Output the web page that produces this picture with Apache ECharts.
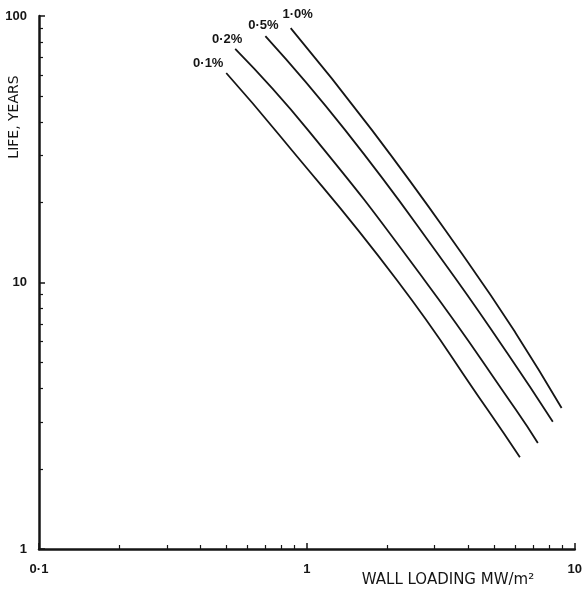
<!DOCTYPE html>
<html>
<head>
<meta charset="utf-8">
<script src="https://cdn.jsdelivr.net/npm/echarts@6/dist/echarts.min.js"></script>
<style>
  html, body { margin: 0; padding: 0; background: #fff; }
  #chart { width: 585px; height: 590px; }
</style>
</head>
<body>
<div id="chart"></div>
<script>
  // curves: wall loading (MW/m2) vs life (years), one per percentage
  var curveNames = ['0·1%', '0·2%', '0·5%', '1·0%'];
  var loading01 = [0.50, 0.79, 2.17, 4.73, 6.24];
  var life01 = [61.1, 35.7, 10.2, 3.33, 2.21];
  var loading02 = [0.54, 1.01, 2.75, 6.03, 7.28];
  var life02 = [75.2, 37.3, 10.2, 3.33, 2.50];
  var loading05 = [0.70, 1.39, 3.21, 5.62, 8.28];
  var life05 = [84.1, 37.3, 12.1, 5.40, 3.00];
  var loading10 = [0.87, 1.75, 3.95, 6.03, 8.93];
  var life10 = [90.1, 37.3, 12.1, 6.44, 3.38];

  var xMinorTicks = [0.2, 0.3, 0.4, 0.5, 0.6, 0.7, 0.8, 0.9, 2, 3, 4, 5, 6, 7, 8, 9];
  var yMinorTicks = [2, 3, 4, 5, 6, 7, 8, 9, 20, 30, 40, 50, 60, 70, 80, 90];

  // label offsets from each curve's first point
  var labelOffsets = [[-18, -10], [-8, -10], [-2, -11], [7, -14]];

  var chartDom = document.getElementById('chart');
  var myChart = echarts.init(chartDom);

  var ink = '#151515';
  var font = 'Liberation Sans, Arial, sans-serif';

  function pairs(xs, ys) {
    return xs.map(function (x, i) { return [x, ys[i]]; });
  }

  var curves = [
    pairs(loading01, life01),
    pairs(loading02, life02),
    pairs(loading05, life05),
    pairs(loading10, life10)
  ];

  var series = curves.map(function (pts, k) {
    return {
      name: curveNames[k],
      type: 'line',
      xAxisIndex: 0,
      yAxisIndex: 0,
      smooth: 0.5,
      symbol: 'circle',
      symbolSize: 0.1,
      showSymbol: true,
      silent: true,
      lineStyle: { color: ink, width: 1.8 },
      itemStyle: { color: ink },
      data: pts.map(function (p, i) {
        if (i !== 0) return p;
        return {
          value: p,
          label: {
            show: true,
            position: 'inside',
            offset: labelOffsets[k],
            formatter: curveNames[k],
            color: ink,
            fontFamily: font,
            fontWeight: 'bold',
            fontSize: 13
          }
        };
      })
    };
  });

  var majorAxisLine = { show: true, onZero: false, lineStyle: { color: ink, width: 2.5 } };

  var option = {
    animation: false,
    backgroundColor: '#fff',
    grid: { left: 39, right: 10, top: 16, bottom: 41 },
    xAxis: [
      {
        type: 'log',
        logBase: 10,
        min: 0.1,
        max: 10,
        position: 'bottom',
        axisLine: majorAxisLine,
        axisTick: { inside: true, length: 6, lineStyle: { color: ink, width: 1.5 } },
        axisLabel: {
          margin: 14,
          color: ink,
          fontFamily: font,
          fontWeight: 'bold',
          fontSize: 13,
          formatter: function (v) { return v < 0.5 ? '0·1' : String(Math.round(v)); }
        },
        splitLine: { show: false }
      },
      {
        type: 'log',
        logBase: 10,
        min: 0.1,
        max: 10,
        position: 'bottom',
        axisLine: { show: false, onZero: false },
        axisTick: { show: true, inside: true, length: 4, customValues: xMinorTicks, lineStyle: { color: ink, width: 1.2 } },
        axisLabel: { show: false },
        splitLine: { show: false }
      }
    ],
    yAxis: [
      {
        type: 'log',
        logBase: 10,
        min: 1,
        max: 100,
        position: 'left',
        axisLine: majorAxisLine,
        axisTick: { inside: true, length: 6, lineStyle: { color: ink, width: 1.5 } },
        axisLabel: {
          margin: 12,
          color: ink,
          fontFamily: font,
          fontWeight: 'bold',
          fontSize: 13,
          formatter: function (v) { return String(Math.round(v)); }
        },
        splitLine: { show: false }
      },
      {
        type: 'log',
        logBase: 10,
        min: 1,
        max: 100,
        position: 'left',
        axisLine: { show: false, onZero: false },
        axisTick: { show: true, inside: true, length: 4, customValues: yMinorTicks, lineStyle: { color: ink, width: 1.2 } },
        axisLabel: { show: false },
        splitLine: { show: false }
      }
    ],
    graphic: [
      {
        type: 'text',
        x: 14,
        y: 117,
        rotation: Math.PI / 2,
        style: {
          text: 'LIFE, YEARS',
          fill: ink,
          font: '14px DejaVu Sans, sans-serif',
          align: 'center',
          verticalAlign: 'middle'
        }
      },
      {
        type: 'text',
        x: 448,
        y: 580,
        style: {
          text: 'WALL LOADING MW/m²',
          fill: ink,
          font: '15px DejaVu Sans, sans-serif',
          align: 'center',
          verticalAlign: 'middle'
        }
      }
    ],
    series: series
  };

  option && myChart.setOption(option);
</script>
</body>
</html>
